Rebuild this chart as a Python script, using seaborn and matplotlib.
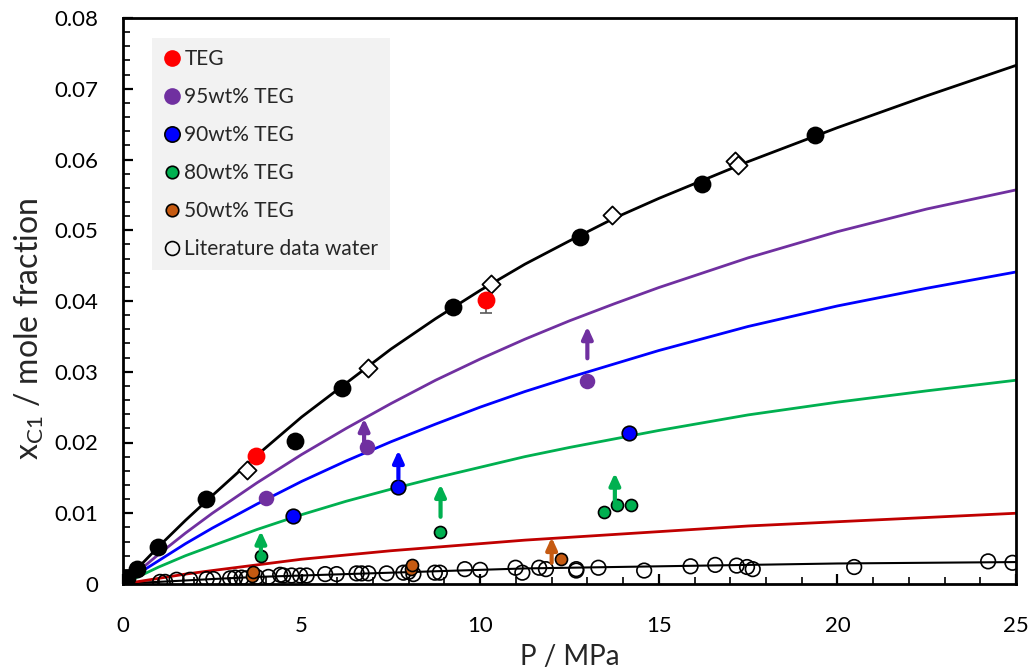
import numpy as np
import pandas as pd
import matplotlib
matplotlib.use("Agg")
import matplotlib.pyplot as plt
import seaborn as sns
from matplotlib.lines import Line2D
from matplotlib.ticker import MultipleLocator, FixedLocator, FixedFormatter

# ---------------- data ----------------
# model curves
curve_P = [0, 0.5, 1, 1.75, 2.5, 3.75, 5, 6.25, 7.5, 8.75, 10, 11.25, 12.5, 13.75, 15, 17.5, 20, 22.5, 25]
curve_teg = [0, 0.0027, 0.0053, 0.0090, 0.0125, 0.0182, 0.0236, 0.0284, 0.0332, 0.0375, 0.0415,
             0.0452, 0.0485, 0.0517, 0.0545, 0.0597, 0.0645, 0.0690, 0.0733]
curve_95 = [0, 0.0021, 0.0042, 0.0072, 0.0100, 0.0143, 0.0183, 0.0220, 0.0255, 0.0288, 0.0318,
            0.0346, 0.0372, 0.0396, 0.0419, 0.0461, 0.0498, 0.0530, 0.0557]
curve_90 = [0, 0.0017, 0.0033, 0.0057, 0.0079, 0.0113, 0.0145, 0.0174, 0.0201, 0.0226, 0.0250,
            0.0272, 0.0292, 0.0311, 0.0330, 0.0364, 0.0393, 0.0418, 0.0441]
curve_80 = [0, 0.0012, 0.0024, 0.0040, 0.0054, 0.0077, 0.0098, 0.0117, 0.0134, 0.0150, 0.0165,
            0.0180, 0.0193, 0.0205, 0.0217, 0.0239, 0.0257, 0.0273, 0.0288]
curve_50 = [0, 0.0004, 0.0008, 0.0014, 0.0019, 0.0027, 0.0035, 0.0041, 0.0047, 0.0052, 0.0057,
            0.0062, 0.0066, 0.0070, 0.0074, 0.0082, 0.0088, 0.0094, 0.0100]
curve_water = [0, 0.0002, 0.0003, 0.0005, 0.0007, 0.0010, 0.0012, 0.0014, 0.0016, 0.0018, 0.0020,
               0.0022, 0.0023, 0.0024, 0.0025, 0.0027, 0.0029, 0.0030, 0.0031]

# literature TEG (black filled circles) and open diamonds
lit_teg_P = [0.02, 0.1, 0.38, 0.99, 2.32, 4.81, 6.12, 9.23, 12.79, 16.21, 19.38]
lit_teg_x = [0.0001, 0.0008, 0.0021, 0.0053, 0.0120, 0.0202, 0.0277, 0.0392, 0.0491, 0.0565, 0.0635]
dia_P = [3.46, 6.87, 10.3, 13.7, 17.14, 17.23]
dia_x = [0.0161, 0.0305, 0.0424, 0.0522, 0.0598, 0.0592]

# this work
teg_P = [3.73, 10.16]
teg_x = [0.0181, 0.0401]
teg_err_low = [0.0, 0.0018]
w95_P = [4.0, 6.82, 13.0]
w95_x = [0.0122, 0.0194, 0.0287]
w90_P = [4.75, 7.69, 14.17]
w90_x = [0.0096, 0.0137, 0.0214]
w80_P = [3.85, 8.88, 13.47, 13.83, 14.21]
w80_x = [0.0040, 0.0073, 0.0102, 0.0111, 0.0112]
w50_P = [3.6, 3.65, 8.05, 8.1, 12.25]
w50_x = [0.0012, 0.0017, 0.0021, 0.0027, 0.0036]

# literature water (open circles)
water_P = [0.0, 0.05, 0.1, 1.04, 1.18, 1.50, 1.88, 2.34, 2.53, 3.0, 3.14, 3.32, 3.46,
           3.74, 4.07, 4.40, 4.49, 4.72, 4.96, 5.14, 5.66, 5.98, 6.54, 6.68, 6.87, 7.38,
           7.85, 7.99, 8.13, 8.73, 8.87, 9.57, 10.0, 10.99, 11.18, 11.65, 11.84, 12.69,
           12.69, 13.31, 14.59, 15.89, 16.58, 17.18, 17.47, 17.63, 20.47, 24.22, 24.9]
water_x = [0.0, 0.0002, 0.0005, 0.0003, 0.0003, 0.0006, 0.0006, 0.0007, 0.0007, 0.0008,
           0.0009, 0.0009, 0.0008, 0.0010, 0.0010, 0.0013, 0.0012, 0.0012, 0.0012, 0.0012,
           0.0014, 0.0014, 0.0015, 0.0015, 0.0015, 0.0015, 0.0016, 0.0017, 0.0014, 0.0016,
           0.0016, 0.0021, 0.0020, 0.0023, 0.0016, 0.0023, 0.0021, 0.0021, 0.0019, 0.0023,
           0.0019, 0.0025, 0.0027, 0.0026, 0.0024, 0.0021, 0.0024, 0.0032, 0.0030]

# arrows (P, start, end)
arrow_P = [6.75, 13.0, 7.71, 3.86, 8.89, 13.77, 12.0]
arrow_start = [0.0201, 0.0319, 0.0149, 0.0046, 0.0095, 0.0114, 0.0030]
arrow_end = [0.0234, 0.0364, 0.0189, 0.0075, 0.0141, 0.0157, 0.0066]
arrow_col = ["#7030A0", "#7030A0", "#0000FF", "#00B050", "#00B050", "#00B050", "#C55A11"]

x_ticks = [0, 5, 10, 15, 20, 25]
y_ticks = [0, 0.01, 0.02, 0.03, 0.04, 0.05, 0.06, 0.07, 0.08]
y_tick_labels = ["0", "0.01", "0.02", "0.03", "0.04", "0.05", "0.06", "0.07", "0.08"]

legend_labels = ["TEG", "95wt% TEG", "90wt% TEG", "80wt% TEG", "50wt% TEG", "Literature data water"]

# ---------------- style ----------------
sns.set_style("ticks")
plt.rcParams["font.family"] = ["Lato", "DejaVu Sans"]
plt.rcParams["mathtext.fontset"] = "custom"
plt.rcParams["mathtext.rm"] = "Lato"

C_RED = "#FF0000"
C_PUR = "#7030A0"
C_BLU = "#0000FF"
C_GRN = "#00B050"
C_ORG = "#C55A11"
C_RLINE = "#C00000"

fig = plt.figure(figsize=(10.30, 6.71), dpi=100)
ax = fig.add_axes([123 / 1030, 1 - 584 / 671, (1016 - 123) / 1030, (584 - 18) / 671])

# curves
curves = [(curve_water, "black", 1.5), (curve_50, C_RLINE, 2.0), (curve_80, C_GRN, 2.0),
          (curve_90, C_BLU, 2.0), (curve_95, C_PUR, 2.0), (curve_teg, "black", 2.0)]
for ys, col, lw in curves:
    sns.lineplot(x=curve_P, y=ys, ax=ax, color=col, linewidth=lw, zorder=2, legend=False)

# open circles: literature water
sns.scatterplot(x=water_P, y=water_x, ax=ax, marker="o", s=110, facecolor="none",
                edgecolor="black", linewidth=1.2, zorder=3, legend=False)

# diamonds
sns.scatterplot(x=dia_P, y=dia_x, ax=ax, marker="D", s=85, facecolor="white",
                edgecolor="black", linewidth=1.3, zorder=4, legend=False)
# black literature TEG
sns.scatterplot(x=lit_teg_P, y=lit_teg_x, ax=ax, marker="o", s=165, color="black",
                edgecolor="black", linewidth=0, zorder=4, legend=False)

# error bar on TEG
ax.errorbar(teg_P, teg_x, yerr=[teg_err_low, [0, 0]], fmt="none", ecolor="#595959",
            elinewidth=1.2, capsize=4, capthick=1.2, zorder=4)

# this work
sns.scatterplot(x=teg_P, y=teg_x, ax=ax, marker="o", s=165, color=C_RED, linewidth=0,
                zorder=5, legend=False)
sns.scatterplot(x=w95_P, y=w95_x, ax=ax, marker="o", s=125, color=C_PUR, linewidth=0,
                zorder=5, legend=False)
sns.scatterplot(x=w90_P, y=w90_x, ax=ax, marker="o", s=110, color=C_BLU, edgecolor="black",
                linewidth=1.2, zorder=5, legend=False)
sns.scatterplot(x=w80_P, y=w80_x, ax=ax, marker="o", s=75, color=C_GRN, edgecolor="black",
                linewidth=1.2, zorder=5, legend=False)
sns.scatterplot(x=w50_P, y=w50_x, ax=ax, marker="o", s=75, color=C_ORG, edgecolor="black",
                linewidth=1.2, zorder=5, legend=False)

# arrows
for p, y0, y1, c in zip(arrow_P, arrow_start, arrow_end, arrow_col):
    ax.annotate("", xy=(p, y1), xytext=(p, y0),
                arrowprops=dict(arrowstyle="-|>,head_length=0.7,head_width=0.32",
                                color=c, lw=3, shrinkA=0, shrinkB=0), zorder=6)

# axes
ax.set_xlim(0, 25)
ax.set_ylim(0, 0.08)
ax.xaxis.set_major_locator(FixedLocator(x_ticks))
ax.xaxis.set_minor_locator(MultipleLocator(1))
ax.yaxis.set_major_locator(FixedLocator(y_ticks))
ax.yaxis.set_major_formatter(FixedFormatter(y_tick_labels))
ax.yaxis.set_minor_locator(MultipleLocator(0.002))
for s in ax.spines.values():
    s.set_visible(True)
    s.set_linewidth(2.0)
    s.set_color("black")
ax.tick_params(axis="both", which="major", direction="in", length=7, width=1.6,
               labelsize=16, colors="black", pad=18)
ax.tick_params(axis="both", which="minor", direction="in", length=5, width=1.4)
ax.tick_params(axis="x", which="major", pad=23)
ax.tick_params(top=False, right=False, which="both")

ax.set_xlabel("P / MPa", fontsize=20, labelpad=6)
ax.set_ylabel(r"x$_\mathregular{C1}$ / mole fraction", fontsize=23)
ax.yaxis.set_label_coords(-0.086, 0.45)

# legend
handles = [
    Line2D([], [], marker="o", linestyle="", markersize=12, markerfacecolor=C_RED, markeredgewidth=0),
    Line2D([], [], marker="o", linestyle="", markersize=12, markerfacecolor=C_PUR, markeredgewidth=0),
    Line2D([], [], marker="o", linestyle="", markersize=11, markerfacecolor=C_BLU, markeredgecolor="black", markeredgewidth=1.2),
    Line2D([], [], marker="o", linestyle="", markersize=9, markerfacecolor=C_GRN, markeredgecolor="black", markeredgewidth=1.2),
    Line2D([], [], marker="o", linestyle="", markersize=9, markerfacecolor=C_ORG, markeredgecolor="black", markeredgewidth=1.2),
    Line2D([], [], marker="o", linestyle="", markersize=10, markerfacecolor="none", markeredgecolor="black", markeredgewidth=1.2),
]
leg = ax.legend(handles, legend_labels, loc="upper left", bbox_to_anchor=(0.0325, 0.965),
                borderaxespad=0, frameon=True, fancybox=False, framealpha=1,
                facecolor="#F2F2F2", edgecolor="none", fontsize=15, labelspacing=0.86,
                handlelength=0.8, handletextpad=0.2, borderpad=0.55)
leg.set_zorder(1)

fig.savefig("out.png", dpi=100)
